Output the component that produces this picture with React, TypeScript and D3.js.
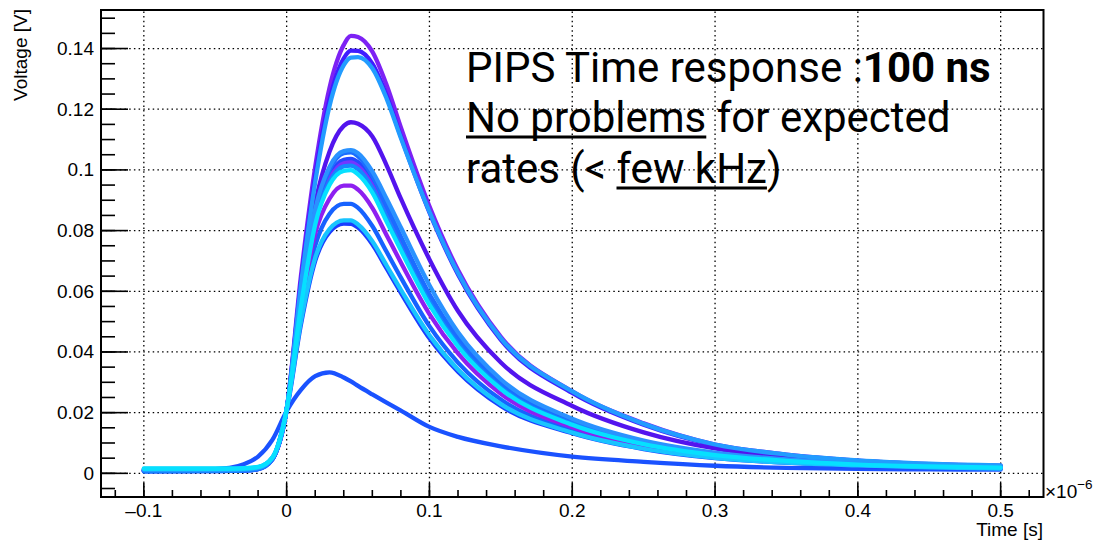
import React, { useLayoutEffect, useRef, useState } from "react";
import * as d3 from "d3";

const W = 1096;
const H = 541;

// time in microseconds (axis shows ×10^-6 s)
const T = [-0.1, -0.06, -0.04, -0.03, -0.02, -0.01, 0, 0.01, 0.02, 0.03, 0.04, 0.045, 0.05, 0.06, 0.07, 0.08, 0.1, 0.12, 0.15, 0.2, 0.25, 0.3, 0.35, 0.4, 0.45, 0.5];

const lowPulse = [0.0012, 0.0012, 0.0018, 0.003, 0.0055, 0.011, 0.0205, 0.0275, 0.032, 0.0333, 0.0316, 0.0303, 0.0288, 0.026, 0.0233, 0.0207, 0.0153, 0.012, 0.0089, 0.0055, 0.0038, 0.0025, 0.0018, 0.0015, 0.0013, 0.0012];
const pulseA = [0.0012, 0.0012, 0.0012, 0.0013, 0.0018, 0.005, 0.021, 0.065, 0.101, 0.127, 0.1412, 0.1442, 0.1438, 0.139, 0.128, 0.114, 0.088, 0.067, 0.045, 0.027, 0.0165, 0.0095, 0.0062, 0.0042, 0.003, 0.0025];
const pulseB = [0.0008, 0.0009, 0.001, 0.0011, 0.0016, 0.0048, 0.021, 0.063, 0.098, 0.123, 0.1368, 0.1393, 0.1392, 0.135, 0.1245, 0.111, 0.086, 0.0655, 0.044, 0.0265, 0.016, 0.0093, 0.006, 0.0041, 0.003, 0.0024];
const pulseC = [0.0015, 0.0015, 0.0015, 0.0016, 0.002, 0.0052, 0.021, 0.062, 0.096, 0.121, 0.1345, 0.137, 0.1372, 0.1335, 0.1235, 0.1105, 0.0862, 0.066, 0.0445, 0.027, 0.0163, 0.0095, 0.0062, 0.0043, 0.0032, 0.0026];
const pulseD = [0.001, 0.001, 0.001, 0.0011, 0.0016, 0.0048, 0.021, 0.06, 0.089, 0.106, 0.1145, 0.1157, 0.1152, 0.111, 0.1015, 0.0905, 0.0705, 0.0535, 0.0365, 0.0222, 0.0135, 0.0082, 0.0053, 0.0037, 0.0028, 0.0022];
const pulseE = [0.0012, 0.0012, 0.0012, 0.0013, 0.0018, 0.005, 0.021, 0.058, 0.087, 0.101, 0.1062, 0.1065, 0.1055, 0.0995, 0.0905, 0.081, 0.062, 0.0465, 0.031, 0.018, 0.0108, 0.0068, 0.0046, 0.0033, 0.0026, 0.0022];
const pulseF = [0.0006, 0.0007, 0.0008, 0.0009, 0.0014, 0.0046, 0.021, 0.057, 0.086, 0.1, 0.1055, 0.1058, 0.1045, 0.098, 0.088, 0.078, 0.059, 0.0445, 0.0295, 0.017, 0.0102, 0.0064, 0.0044, 0.0031, 0.0025, 0.0021];
const pulseG = [0.0008, 0.0008, 0.0009, 0.001, 0.0015, 0.0047, 0.021, 0.056, 0.085, 0.098, 0.1033, 0.1036, 0.1025, 0.096, 0.0865, 0.0765, 0.058, 0.0435, 0.029, 0.0168, 0.01, 0.0063, 0.0043, 0.003, 0.0024, 0.002];
const pulseH = [0.001, 0.001, 0.001, 0.0011, 0.0016, 0.0048, 0.021, 0.056, 0.084, 0.097, 0.1022, 0.1025, 0.1012, 0.095, 0.0855, 0.0755, 0.057, 0.043, 0.0285, 0.0165, 0.0098, 0.0062, 0.0042, 0.003, 0.0024, 0.002];
const pulseI = [0.0009, 0.0009, 0.001, 0.0011, 0.0016, 0.0048, 0.021, 0.055, 0.083, 0.096, 0.1012, 0.1014, 0.1002, 0.094, 0.0845, 0.0745, 0.0565, 0.0425, 0.0282, 0.0163, 0.0097, 0.0061, 0.0042, 0.003, 0.0024, 0.002];
const pulseJ = [0.0016, 0.0016, 0.0016, 0.0017, 0.0021, 0.0052, 0.021, 0.055, 0.082, 0.095, 0.0997, 0.0999, 0.0985, 0.0925, 0.083, 0.0735, 0.0555, 0.0418, 0.0278, 0.016, 0.0096, 0.006, 0.0041, 0.0029, 0.0023, 0.0019];
const pulseK = [0.0008, 0.0008, 0.0009, 0.001, 0.0015, 0.0047, 0.021, 0.054, 0.079, 0.0905, 0.0948, 0.0948, 0.0935, 0.0875, 0.0785, 0.0695, 0.0525, 0.0395, 0.0262, 0.0152, 0.0091, 0.0057, 0.0039, 0.0028, 0.0022, 0.0018];
const pulseL = [0.0009, 0.0009, 0.001, 0.0011, 0.0016, 0.0048, 0.021, 0.052, 0.075, 0.0855, 0.0888, 0.0888, 0.0875, 0.0815, 0.073, 0.0645, 0.0485, 0.0365, 0.0243, 0.0142, 0.0086, 0.0054, 0.0037, 0.0027, 0.0021, 0.0017];
const pulseM = [0.0014, 0.0014, 0.0014, 0.0015, 0.002, 0.0051, 0.021, 0.05, 0.071, 0.0805, 0.0834, 0.0834, 0.082, 0.0765, 0.0685, 0.0605, 0.0455, 0.0342, 0.0228, 0.0134, 0.0081, 0.0051, 0.0035, 0.0026, 0.002, 0.0016];
const pulseN = [0.0007, 0.0007, 0.0008, 0.0009, 0.0014, 0.0046, 0.0205, 0.049, 0.07, 0.0795, 0.0823, 0.0822, 0.081, 0.0755, 0.0675, 0.0595, 0.0445, 0.0335, 0.0222, 0.0132, 0.008, 0.005, 0.0035, 0.0025, 0.002, 0.0016];

// draw order and colours
const seriesValues = [lowPulse, pulseA, pulseB, pulseD, pulseN, pulseL, pulseK, pulseG, pulseH, pulseF, pulseI, pulseE, pulseC, pulseM, pulseJ];
const seriesColors = ["#1a52ff", "#7d22f4", "#3f1dff", "#5314ee", "#1c3dff", "#1662ff", "#8e1ff0", "#2447ff", "#7436ff", "#1b6dff", "#1488ff", "#2a92ff", "#229cff", "#18c4ff", "#06e0ff"];

const xMajorTicks = [-0.1, 0, 0.1, 0.2, 0.3, 0.4, 0.5];
const xTickLabels = ["\u20130.1", "0", "0.1", "0.2", "0.3", "0.4", "0.5"];
const yMajorTicks = [0, 0.02, 0.04, 0.06, 0.08, 0.1, 0.12, 0.14];
const yTickLabels = ["0", "0.02", "0.04", "0.06", "0.08", "0.1", "0.12", "0.14"];

export default function App() {
  const x = d3.scaleLinear().domain([-0.13, 0.53]).range([101, 1043.5]);
  const y = d3.scaleLinear().domain([-0.0078, 0.1527]).range([497, 10]);
  const [x0, x1] = x.range();
  const [y0, y1] = y.range();

  const xMinor = d3.range(-6, 27).map((i) => +(i * 0.02).toFixed(3)).filter((v) => x(v) > x0 + 1 && x(v) < x1 - 1);
  const yMinor = d3.range(-1, 31).map((i) => +(i * 0.005).toFixed(4)).filter((v) => y(v) < y0 - 1 && y(v) > y1 + 1);

  const line = d3
    .line<number>()
    .x((_, i) => x(T[i]))
    .y((d) => y(d))
    .curve(d3.curveMonotoneX);

  const l2 = useRef<SVGTextElement>(null);
  const l3 = useRef<SVGTextElement>(null);
  const [ul, setUl] = useState<{ a: number; b: number; y: number }[]>([]);
  useLayoutEffect(() => {
    const out: { a: number; b: number; y: number }[] = [];
    try {
      if (l2.current) {
        const a = l2.current.getStartPositionOfChar(0).x;
        const b = l2.current.getEndPositionOfChar(10).x;
        out.push({ a, b, y: 137 });
      }
      if (l3.current) {
        const a = l3.current.getStartPositionOfChar(9).x;
        const b = l3.current.getEndPositionOfChar(15).x;
        out.push({ a, b, y: 188 });
      }
    } catch (e) {}
    setUl(out);
  }, []);

  const labelFont = "'Liberation Sans', Arial, Helvetica, sans-serif";

  return (
    <svg width={W} height={H} style={{ position: "absolute", left: 0, top: 0, background: "#fff" }}>
      <rect x={0} y={0} width={W} height={H} fill="#fff" />
      {/* grid */}
      <g stroke="#000" strokeWidth={1.3} strokeDasharray="1.5 3.2">
        {xMajorTicks.map((v) => (
          <line key={"gx" + v} x1={x(v)} x2={x(v)} y1={y0} y2={y1} />
        ))}
        {yMajorTicks.map((v) => (
          <line key={"gy" + v} x1={x0} x2={x1} y1={y(v)} y2={y(v)} />
        ))}
      </g>
      {/* curves */}
      <g fill="none" strokeWidth={4.3} strokeLinejoin="round" strokeLinecap="round">
        {seriesValues.map((vals, i) => (
          <path key={i} d={line(vals) || ""} stroke={seriesColors[i]} />
        ))}
      </g>
      {/* ticks */}
      <g stroke="#000" strokeWidth={1.6}>
        {xMajorTicks.map((v) => (
          <line key={"tx" + v} x1={x(v)} x2={x(v)} y1={y0} y2={y0 - 14} />
        ))}
        {xMinor.map((v) => (
          <line key={"mx" + v} x1={x(v)} x2={x(v)} y1={y0} y2={y0 - 7} />
        ))}
        {yMajorTicks.map((v) => (
          <line key={"ty" + v} x1={x0} x2={x0 + 27} y1={y(v)} y2={y(v)} />
        ))}
        {yMinor.map((v) => (
          <line key={"my" + v} x1={x0} x2={x0 + 14} y1={y(v)} y2={y(v)} />
        ))}
      </g>
      {/* frame */}
      <rect x={x0} y={y1} width={x1 - x0} height={y0 - y1} fill="none" stroke="#000" strokeWidth={2} />
      {/* tick labels */}
      <g fontFamily={labelFont} fontSize={19} fill="#000">
        {xMajorTicks.map((v, i) => (
          <text key={"lx" + v} x={x(v)} y={517} textAnchor="middle">
            {xTickLabels[i]}
          </text>
        ))}
        {yMajorTicks.map((v, i) => (
          <text key={"ly" + v} x={94} y={y(v)} textAnchor="end" dominantBaseline="central">
            {yTickLabels[i]}
          </text>
        ))}
        <text x={1043} y={536} textAnchor="end">Time [s]</text>
        <text x={1045} y={498}>
          ×10
          <tspan fontSize={13.5} dy={-9}>−6</tspan>
        </text>
        <text transform="translate(27,9) rotate(-90)" textAnchor="end">Voltage [V]</text>
      </g>
      {/* annotation */}
      <g fontFamily="Roboto, 'Noto Sans', sans-serif" fontSize={42} fill="#000">
        <text x={466} y={82}>
          PIPS Time response :<tspan fontWeight={700}>100 ns</tspan>
        </text>
        <text ref={l2} x={466} y={132}>No problems for expected</text>
        <text ref={l3} x={466} y={183}>rates (&lt; few kHz)</text>
      </g>
      {ul.map((u, i) => (
        <line key={"ul" + i} x1={u.a} x2={u.b} y1={u.y} y2={u.y} stroke="#000" strokeWidth={3.2} />
      ))}
    </svg>
  );
}
